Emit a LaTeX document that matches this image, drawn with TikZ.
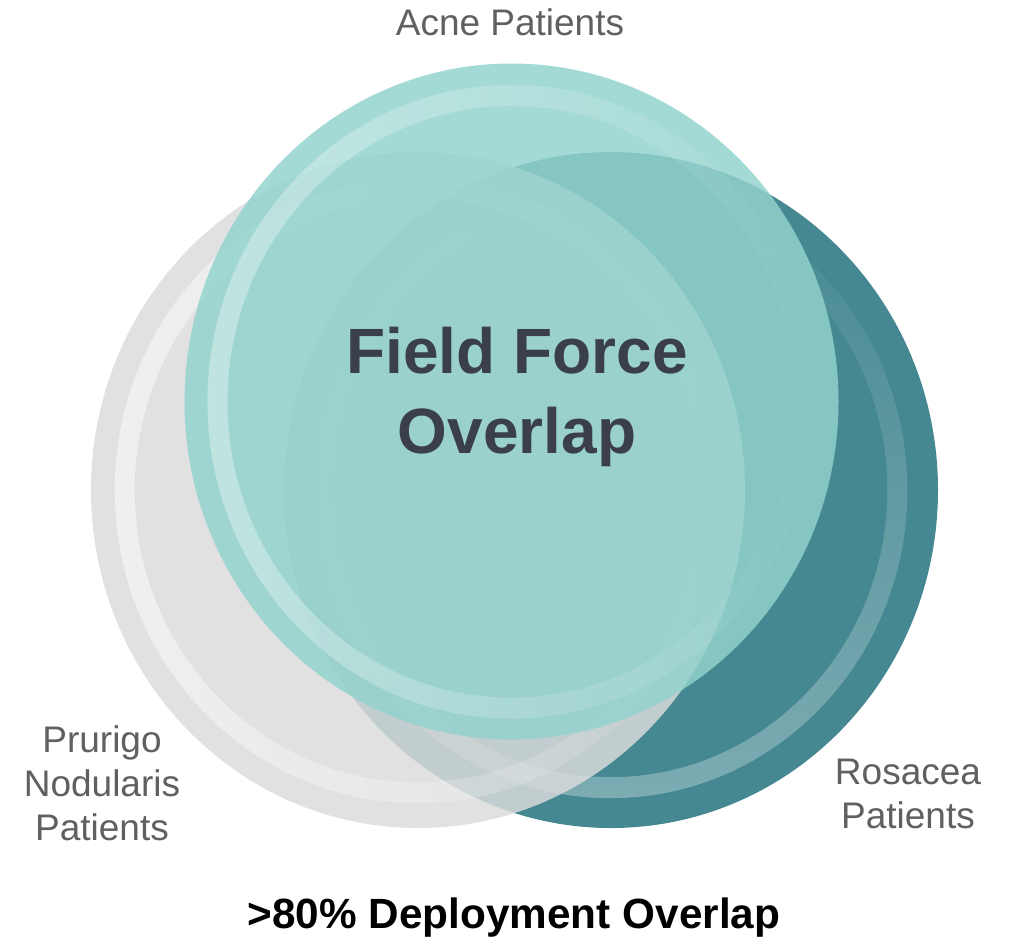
\documentclass[tikz,border=0pt]{standalone}
\usepackage{fontspec}
\setmainfont{Liberation Sans}
\usetikzlibrary{fadings,shapes.geometric}

\definecolor{acnefill}{RGB}{146,211,205}
\definecolor{rosaceafill}{RGB}{69,136,146}
\definecolor{prurigofill}{RGB}{219,219,219}
\definecolor{labelgray}{RGB}{96,96,96}
\definecolor{titleink}{RGB}{58,63,75}

% white highlight rings fade out across the circle
\tikzfading[name=ringfadeleft, left color=transparent!0, right color=transparent!100]
\tikzfading[name=ringfadedown, top color=transparent!100, middle color=transparent!88, bottom color=transparent!0]

\tikzset{
  blob/.style={ellipse, inner sep=0pt, minimum width=654pt, minimum height=676pt, draw=none},
  grouplabel/.style={font=\fontsize{37}{44}\selectfont, text=labelgray, align=center, inner sep=0pt},
}

\begin{document}
\begin{tikzpicture}[x=1pt, y=-1pt]
\useasboundingbox (0,0) rectangle (1009,938);

% Rosacea circle (bottom layer)
\node[blob, fill=rosaceafill] (rosacea) at (611,490) {};
\fill[white, even odd rule, path fading=ringfadedown, fill opacity=0.3]
  (611,490) ellipse [x radius=297pt, y radius=308pt]
  (611,490) ellipse [x radius=277pt, y radius=287pt];

% Prurigo nodularis circle
\node[blob, fill=prurigofill, fill opacity=0.84] (prurigo) at (418,490) {};
\fill[white, even odd rule, path fading=ringfadeleft, fill opacity=0.5]
  (418,490) ellipse [x radius=303pt, y radius=313pt]
  (418,490) ellipse [x radius=283pt, y radius=292pt];

% Acne circle (top layer)
\node[blob, fill=acnefill, fill opacity=0.83] (acne) at (511.5,401.5) {};
\fill[white, even odd rule, path fading=ringfadeleft, fill opacity=0.35]
  (511.5,401.5) ellipse [x radius=304pt, y radius=317pt]
  (511.5,401.5) ellipse [x radius=284pt, y radius=296pt];

% Labels (base anchor sits on the last line)
\node[grouplabel, anchor=base] (acnelabel) at (510,35) {Acne Patients};
\node[grouplabel, anchor=base] (rosacealabel) at (908,828) {Rosacea\\Patients};
\node[grouplabel, anchor=base] (prurigolabel) at (102,840) {Prurigo\\Nodularis\\Patients};

\node[font=\fontsize{64}{80}\selectfont\bfseries, text=titleink, align=center, anchor=base, inner sep=0pt]
  (overlap) at (517,453) {Field Force\\Overlap};

\node[font=\fontsize{42.3}{50}\selectfont\bfseries, text=black, anchor=base, inner sep=0pt]
  (deployment) at (514,928) {>80\% Deployment Overlap};
\end{tikzpicture}
\end{document}
